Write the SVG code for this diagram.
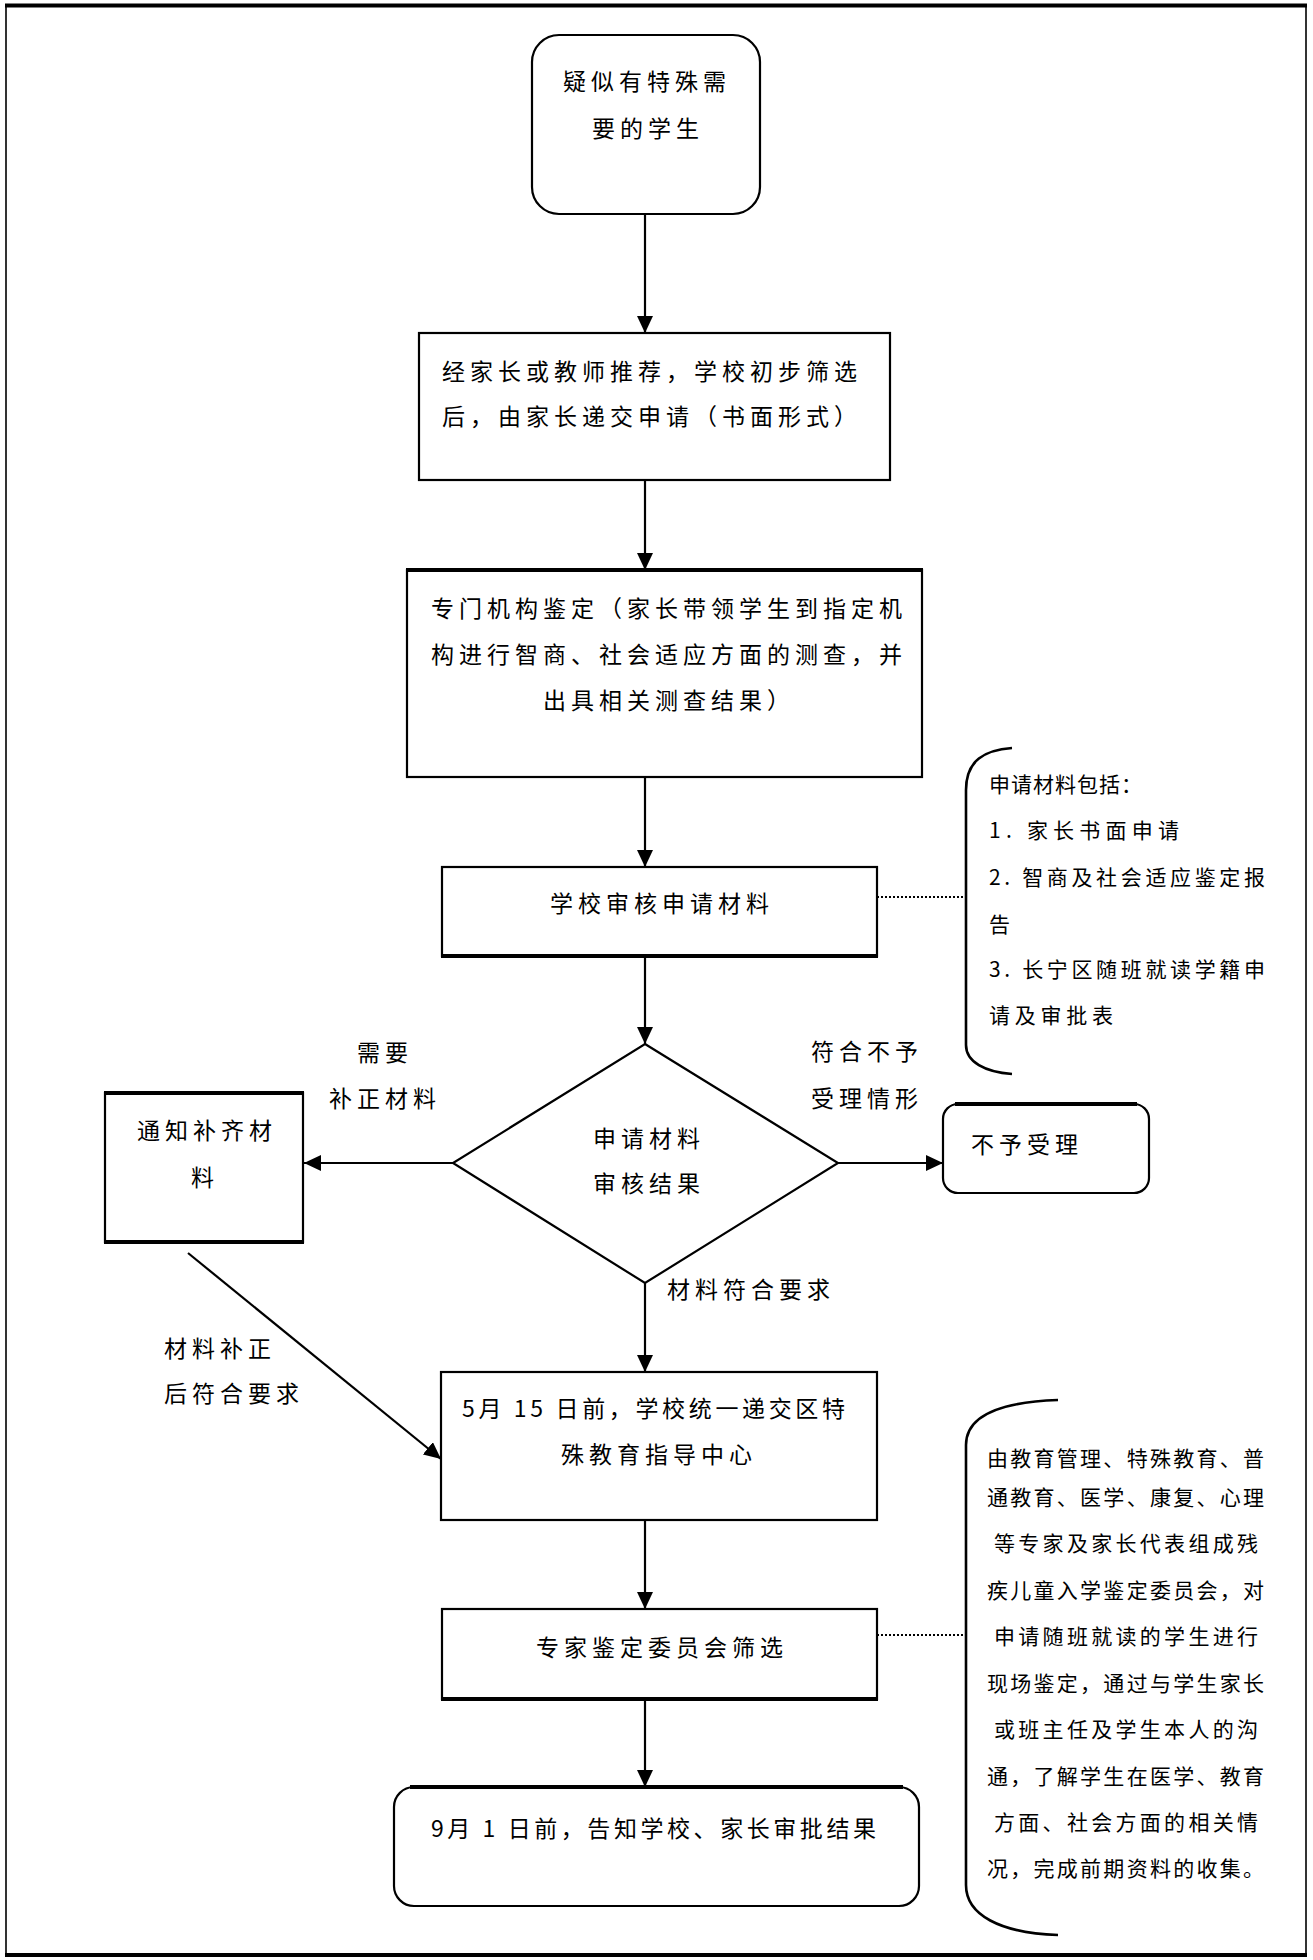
<svg xmlns="http://www.w3.org/2000/svg" width="1313" height="1960" viewBox="0 0 1313 1960">
<style>
text{font-family:"Noto Sans CJK SC","Liberation Serif",sans-serif;font-size:23px;fill:#000;letter-spacing:5px}
.s{font-size:21px;letter-spacing:0}
.box{fill:#fff;stroke:#000;stroke-width:2.2}
.thick{stroke:#000;stroke-width:4;fill:none}
.con{stroke:#000;stroke-width:2.2;fill:none}
.dot{stroke:#000;stroke-width:1.8;stroke-dasharray:2 2;fill:none}
.br{stroke:#000;stroke-width:2.6;fill:none}
</style>
<defs>
<marker id="ah" markerUnits="userSpaceOnUse" markerWidth="18" markerHeight="16" refX="17" refY="8" orient="auto">
<path d="M0,0 L17,8 L0,16 z" fill="#000"/>
</marker>
</defs>
<rect width="1313" height="1960" fill="#fff"/>
<g id="frame">
<rect x="6" y="6" width="1300" height="1949" fill="none" stroke="#000" stroke-width="1.6"/>
<line x1="5" y1="5.5" x2="1307" y2="5.5" class="thick"/>
<line x1="5" y1="1955" x2="1307" y2="1955" class="thick"/>
</g>
<g id="connectors">
<line x1="645" y1="215" x2="645" y2="333" class="con" marker-end="url(#ah)"/>
<line x1="645" y1="480" x2="645" y2="570" class="con" marker-end="url(#ah)"/>
<line x1="645" y1="777" x2="645" y2="867" class="con" marker-end="url(#ah)"/>
<line x1="645" y1="956" x2="645" y2="1044" class="con" marker-end="url(#ah)"/>
<line x1="645" y1="1283" x2="645" y2="1372" class="con" marker-end="url(#ah)"/>
<line x1="645" y1="1520" x2="645" y2="1609" class="con" marker-end="url(#ah)"/>
<line x1="645" y1="1699" x2="645" y2="1787" class="con" marker-end="url(#ah)"/>
<line x1="453" y1="1163" x2="304" y2="1163" class="con" stroke-width="2.6" marker-end="url(#ah)"/>
<line x1="838" y1="1163" x2="943" y2="1163" class="con" stroke-width="2.6" marker-end="url(#ah)"/>
<line x1="188" y1="1253" x2="441" y2="1459" class="con" marker-end="url(#ah)"/>
<line x1="877" y1="897" x2="966" y2="897" class="dot"/>
<line x1="877" y1="1635" x2="966" y2="1635" class="dot"/>
<text x="357" y="1061">需要</text>
<text x="329" y="1107">补正材料</text>
<text x="811" y="1060">符合不予</text>
<text x="811" y="1107">受理情形</text>
<text x="667" y="1298">材料符合要求</text>
<text x="164" y="1357">材料补正</text>
<text x="164" y="1402">后符合要求</text>
</g>
<g id="n1">
<rect x="532" y="35" width="228" height="179" rx="27" class="box"/>
<text x="563" y="90">疑似有特殊需</text>
<text x="592" y="137">要的学生</text>
</g>
<g id="n2">
<rect x="419" y="333" width="471" height="147" class="box"/>
<text x="442" y="380">经家长或教师推荐，学校初步筛选</text>
<text x="442" y="425">后，由家长递交申请（书面形式）</text>
</g>
<g id="n3">
<rect x="407" y="570" width="515" height="207" class="box"/>
<line x1="406" y1="570" x2="923" y2="570" class="thick"/>
<text x="431" y="617">专门机构鉴定（家长带领学生到指定机</text>
<text x="431" y="663">构进行智商、社会适应方面的测查，并</text>
<text x="543" y="709">出具相关测查结果）</text>
</g>
<g id="n4">
<rect x="442" y="867" width="435" height="89" class="box"/>
<line x1="441" y1="956" x2="878" y2="956" class="thick"/>
<text x="550" y="912">学校审核申请材料</text>
</g>
<g id="n5">
<polygon points="645,1044 838,1163 645,1283 453,1163" class="box" stroke-width="2.6"/>
<text x="593" y="1147">申请材料</text>
<text x="593" y="1192">审核结果</text>
</g>
<g id="n6">
<rect x="105" y="1093" width="198" height="149" class="box"/>
<line x1="104" y1="1093" x2="304" y2="1093" class="thick"/>
<line x1="104" y1="1242" x2="304" y2="1242" class="thick"/>
<text x="137" y="1139">通知补齐材</text>
<text x="191" y="1186">料</text>
</g>
<g id="n7">
<rect x="943" y="1104" width="206" height="89" rx="15" class="box" stroke-width="2.6"/>
<line x1="955" y1="1104" x2="1137" y2="1104" class="thick"/>
<text x="971" y="1153">不予受理</text>
</g>
<g id="n8">
<rect x="441" y="1372" width="436" height="148" class="box"/>
<text x="462" y="1417" textLength="388" lengthAdjust="spacing">5月 15 日前，学校统一递交区特</text>
<text x="561" y="1463">殊教育指导中心</text>
</g>
<g id="n9">
<rect x="442" y="1609" width="435" height="90" class="box"/>
<line x1="441" y1="1699" x2="878" y2="1699" class="thick"/>
<text x="536" y="1656">专家鉴定委员会筛选</text>
</g>
<g id="n10">
<rect x="394" y="1787" width="525" height="119" rx="20" class="box"/>
<line x1="410" y1="1787" x2="903" y2="1787" class="thick"/>
<text x="431" y="1837" textLength="450" lengthAdjust="spacing">9月 1 日前，告知学校、家长审批结果</text>
</g>
<g id="note1">
<path d="M1012,748 C985,750 966,760 966,790 L966,1045 C966,1062 985,1072 1012,1074" class="br"/>
<text class="s" x="989" y="792" textLength="153" lengthAdjust="spacing">申请材料包括：</text>
<text class="s" x="989" y="838" textLength="190" lengthAdjust="spacing">1. 家长书面申请</text>
<text class="s" x="989" y="885" textLength="276" lengthAdjust="spacing">2. 智商及社会适应鉴定报</text>
<text class="s" x="989" y="932">告</text>
<text class="s" x="989" y="977" textLength="276" lengthAdjust="spacing">3. 长宁区随班就读学籍申</text>
<text class="s" x="989" y="1023" textLength="124" lengthAdjust="spacing">请及审批表</text>
</g>
<g id="note2">
<path d="M1058,1400 C1000,1402 966,1415 966,1445 L966,1885 C966,1915 1000,1933 1058,1935" class="br"/>
<text class="s" x="987" y="1466" textLength="277" lengthAdjust="spacing">由教育管理、特殊教育、普</text>
<text class="s" x="987" y="1505" textLength="277" lengthAdjust="spacing">通教育、医学、康复、心理</text>
<text class="s" x="994" y="1551" textLength="264" lengthAdjust="spacing">等专家及家长代表组成残</text>
<text class="s" x="987" y="1598" textLength="277" lengthAdjust="spacing">疾儿童入学鉴定委员会，对</text>
<text class="s" x="994" y="1644" textLength="264" lengthAdjust="spacing">申请随班就读的学生进行</text>
<text class="s" x="987" y="1691" textLength="277" lengthAdjust="spacing">现场鉴定，通过与学生家长</text>
<text class="s" x="994" y="1737" textLength="264" lengthAdjust="spacing">或班主任及学生本人的沟</text>
<text class="s" x="987" y="1784" textLength="277" lengthAdjust="spacing">通，了解学生在医学、教育</text>
<text class="s" x="994" y="1830" textLength="264" lengthAdjust="spacing">方面、社会方面的相关情</text>
<text class="s" x="987" y="1876" textLength="277" lengthAdjust="spacing">况，完成前期资料的收集。</text>
</g>
</svg>
